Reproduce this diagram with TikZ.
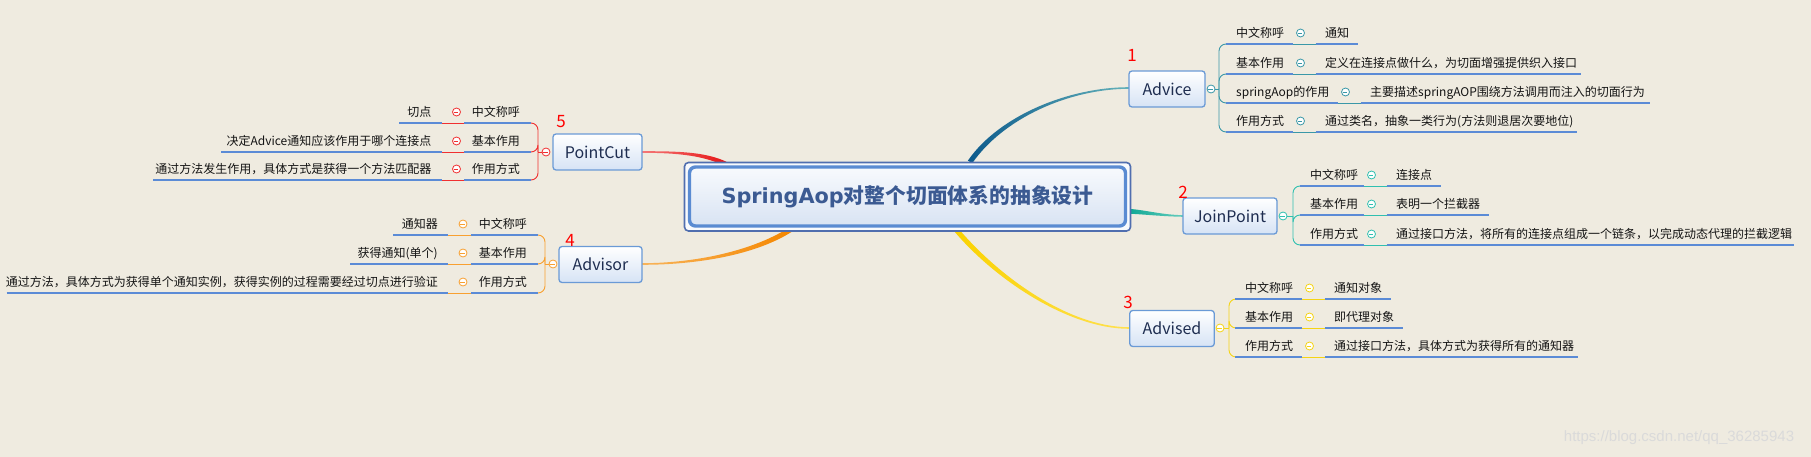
\documentclass[tikz,border=0pt]{standalone}
\usepackage{fontspec}
\setmainfont{Noto Sans CJK SC}
\newfontfamily\wmfont{Liberation Sans}
\newfontfamily\titlatin{DejaVu Sans}
\definecolor{bg}{RGB}{239,235,224}
\definecolor{ublue}{RGB}{91,139,214}
\definecolor{bbord}{RGB}{106,154,214}
\definecolor{bfill}{RGB}{214,227,245}
\definecolor{btext}{RGB}{30,45,80}
\definecolor{txtc}{RGB}{20,20,20}
\definecolor{ttext}{RGB}{59,90,146}
\definecolor{cadv}{RGB}{58,152,168}
\definecolor{cjp}{RGB}{48,192,176}
\definecolor{cad}{RGB}{245,212,20}
\definecolor{cpc}{RGB}{240,48,48}
\definecolor{cas}{RGB}{248,160,48}
\definecolor{advA}{RGB}{12,90,140}
\definecolor{advB}{RGB}{100,178,186}
\definecolor{jpA}{RGB}{10,165,145}
\definecolor{jpB}{RGB}{100,205,190}
\definecolor{adA}{RGB}{250,210,0}
\definecolor{adB}{RGB}{255,225,80}
\definecolor{pcA}{RGB}{245,120,120}
\definecolor{pcB}{RGB}{230,20,20}
\definecolor{asA}{RGB}{248,180,90}
\definecolor{asB}{RGB}{245,135,0}
\definecolor{outerb}{RGB}{80,110,175}
\definecolor{innerb}{RGB}{90,139,210}
\definecolor{rootA}{RGB}{248,250,253}
\definecolor{rootB}{RGB}{216,227,243}
\definecolor{wmc}{RGB}{218,218,218}
\newcounter{rw}
\tikzset{
  branch/.style={draw=bbord, line width=1.3pt, rounded corners=3pt, top color=white,
    bottom color=bfill, text=btext, font=\fontsize{16}{18}\selectfont,
    minimum height=36pt, inner sep=0pt},
  txt/.style={inner sep=0pt, text=txtc, font=\fontsize{12}{14}\selectfont},
  uline/.style={draw=ublue, line width=2.4pt},
  num/.style={text=red, font=\fontsize{17}{20}\selectfont, inner sep=0pt},
  foldc/.style={circle, fill=white, minimum size=8pt, inner sep=0pt, line width=0.8pt},
  thin/.style={line width=0.9pt},
  brk/.style={line width=0.9pt, rounded corners=7pt}
}
\newcommand\foldmark[4]{%
  \node[foldc,draw=#4] (#1) at (#2,#3) {};
  \draw[#4,line width=0.8pt] (#1.west) ++(1.8,0) -- ++(4.4,0);}
% right row: y, lu0, lu1, vend, color, label, value
\newcommand\rrow[7]{%
  \stepcounter{rw}%
  \draw[#5,thin] (#3,#1) -- (#3+22.5,#1);
  \draw[uline] (#2,#1) -- (#3,#1);
  \draw[uline] (#3+22.5,#1) -- (#4,#1);
  \node[txt,anchor=base west] (lab\arabic{rw}) at (#2+10,#1-6.5) {#6};
  \node[txt,anchor=base west] (val\arabic{rw}) at (#3+32,#1-6.5) {#7};
  \foldmark{rf\arabic{rw}}{#3+7.5}{#1-11}{#5}}
% left row: y, lu0, lu1, vstart, color, label, value
\newcommand\lrow[7]{%
  \stepcounter{rw}%
  \draw[#5,thin] (#2-22.5,#1) -- (#2,#1);
  \draw[uline] (#2,#1) -- (#3,#1);
  \draw[uline] (#4,#1) -- (#2-22.5,#1);
  \node[txt,anchor=base east] (lab\arabic{rw}) at (#3-11,#1-6.5) {#6};
  \node[txt,anchor=base east] (val\arabic{rw}) at (#2-32.5,#1-6.5) {#7};
  \foldmark{rf\arabic{rw}}{#2-7.5}{#1-11}{#5}}
\begin{document}
\begin{tikzpicture}[x=1pt,y=-1pt]
\useasboundingbox (0,0) rectangle (1811,457);
\fill[bg] (0,0) rectangle (1811,457);

% main branch connectors (tapered)
\shade[left color=advA, right color=advB] (967.9,160.6) .. controls (998.9,115.6) and (1069,87.2) .. (1129,87.2) -- (1129,88.8) .. controls (1069,88.8) and (1003.1,118.4) .. (972.1,163.4) -- cycle;
\shade[left color=jpA, right color=jpB] (1125,208.5) .. controls (1145,209.7) and (1160,214.7) .. (1183,215.2) -- (1183,216.8) .. controls (1160,216.3) and (1145,214.3) .. (1125,213.5) -- cycle;
\shade[left color=adA, right color=adB] (952.3,229) .. controls (994.1,279.6) and (1069,328.8) .. (1129,328.8) -- (1129,327.2) .. controls (1069,327.2) and (997.9,276.4) .. (956.1,225.8) -- cycle;
\shade[left color=pcA, right color=pcB] (642,151.2) .. controls (680,151.2) and (705.95,152.02) .. (726.95,162.02) -- (725.05,165.98) .. controls (704.05,155.98) and (680,152.8) .. (642,152.8) -- cycle;
\shade[left color=asA, right color=asB] (642,263.2) .. controls (690,263.2) and (748.7,252.9) .. (788.7,227.9) -- (791.3,232.1) .. controls (751.3,257.1) and (690,264.8) .. (642,264.8) -- cycle;

% central topic
\node[draw=outerb, line width=1.6pt, rounded corners=4pt, fill=rootA, minimum width=446pt, minimum height=68.5pt, inner sep=0pt] (root) at (907.5,196.75) {};
\node[draw=innerb, line width=3.4pt, rounded corners=6pt, top color=rootA, bottom color=rootB, minimum width=436pt, minimum height=59pt, inner sep=0pt] (rootin) at (907.5,196.5) {};
\node[text=ttext, font=\fontsize{20.8}{24}\selectfont\bfseries, inner sep=0pt] (title) at (907.5,197) {{\titlatin\bfseries SpringAop}对整个切面体系的抽象设计};

% branch topics
\node[branch, minimum width=76pt] (advice) at (1167,89) {Advice};
\node[branch, minimum width=94pt] (joinpoint) at (1230,216) {JoinPoint};
\node[branch, minimum width=84.5pt] (advised) at (1172,328.5) {Advised};
\node[branch, minimum width=89pt] (pointcut) at (597.5,152) {PointCut};
\node[branch, minimum width=83pt] (advisor) at (600.5,264.5) {Advisor};

\node[num] (n1) at (1132,55) {1};
\node[num] (n2) at (1183,192) {2};
\node[num] (n3) at (1128,302) {3};
\node[num] (n4) at (570,240) {4};
\node[num] (n5) at (561,122) {5};

% Advice
\coordinate (ab) at (1219,89);
\draw[cadv,thin] (1215,89) -- (ab);
\foreach \yy in {44,74,103,132} \draw[cadv,brk] (ab) |- (1227,\yy);
\foldmark{af}{1211}{89}{cadv}
\rrow{44}{1226}{1293}{1358}{cadv}{中文称呼}{通知}
\rrow{74}{1226}{1293}{1581}{cadv}{基本作用}{定义在连接点做什么，为切面增强提供织入接口}
\rrow{103}{1226}{1338}{1650}{cadv}{springAop的作用}{主要描述springAOP围绕方法调用而注入的切面行为}
\rrow{132}{1226}{1293}{1577}{cadv}{作用方式}{通过类名，抽象一类行为(方法则退居次要地位)}

% JoinPoint
\coordinate (jb) at (1293,216);
\draw[cjp,thin] (1287,216) -- (jb);
\foreach \yy in {186,215,245} \draw[cjp,brk] (jb) |- (1301,\yy);
\foldmark{jf}{1283}{216}{cjp}
\rrow{186}{1300}{1364}{1441}{cjp}{中文称呼}{连接点}
\rrow{215}{1300}{1364}{1489}{cjp}{基本作用}{表明一个拦截器}
\rrow{245}{1300}{1364}{1794}{cjp}{作用方式}{通过接口方法，将所有的连接点组成一个链条，以完成动态代理的拦截逻辑}

% Advised
\coordinate (db) at (1229,328);
\draw[cad,thin] (1224,328) -- (db);
\foreach \yy in {299,328,357} \draw[cad,brk] (db) |- (1236,\yy);
\foldmark{df}{1220}{328}{cad}
\rrow{299}{1235}{1302}{1391}{cad}{中文称呼}{通知对象}
\rrow{328}{1235}{1302}{1403}{cad}{基本作用}{即代理对象}
\rrow{357}{1235}{1302}{1578}{cad}{作用方式}{通过接口方法，具体方式为获得所有的通知器}

% PointCut
\coordinate (pb) at (538,152);
\draw[cpc,thin] (542,152) -- (pb);
\foreach \yy in {123,152,180} \draw[cpc,brk] (pb) |- (530,\yy);
\foldmark{pf}{546}{152}{cpc}
\lrow{123}{464}{531}{399}{cpc}{中文称呼}{切点}
\lrow{152}{464}{531}{221}{cpc}{基本作用}{决定Advice通知应该作用于哪个连接点}
\lrow{180}{464}{531}{153}{cpc}{作用方式}{通过方法发生作用，具体方式是获得一个方法匹配器}

% Advisor
\coordinate (sb) at (545,264);
\draw[cas,thin] (549,264) -- (sb);
\foreach \yy in {235,264,293} \draw[cas,brk] (sb) |- (537,\yy);
\foldmark{sf}{553}{264}{cas}
\lrow{235}{470.5}{538}{393}{cas}{中文称呼}{通知器}
\lrow{264}{470.5}{538}{350}{cas}{基本作用}{获得通知(单个)}
\lrow{293}{470.5}{538}{6.5}{cas}{作用方式}{通过方法，具体方式为获得单个通知实例，获得实例的过程需要经过切点进行验证}

% watermark
\node[text=wmc, font=\wmfont\fontsize{15}{17}\selectfont, inner sep=0pt] (wm) at (1679,438) {https://blog.csdn.net/qq\_36285943};
\end{tikzpicture}
\end{document}
